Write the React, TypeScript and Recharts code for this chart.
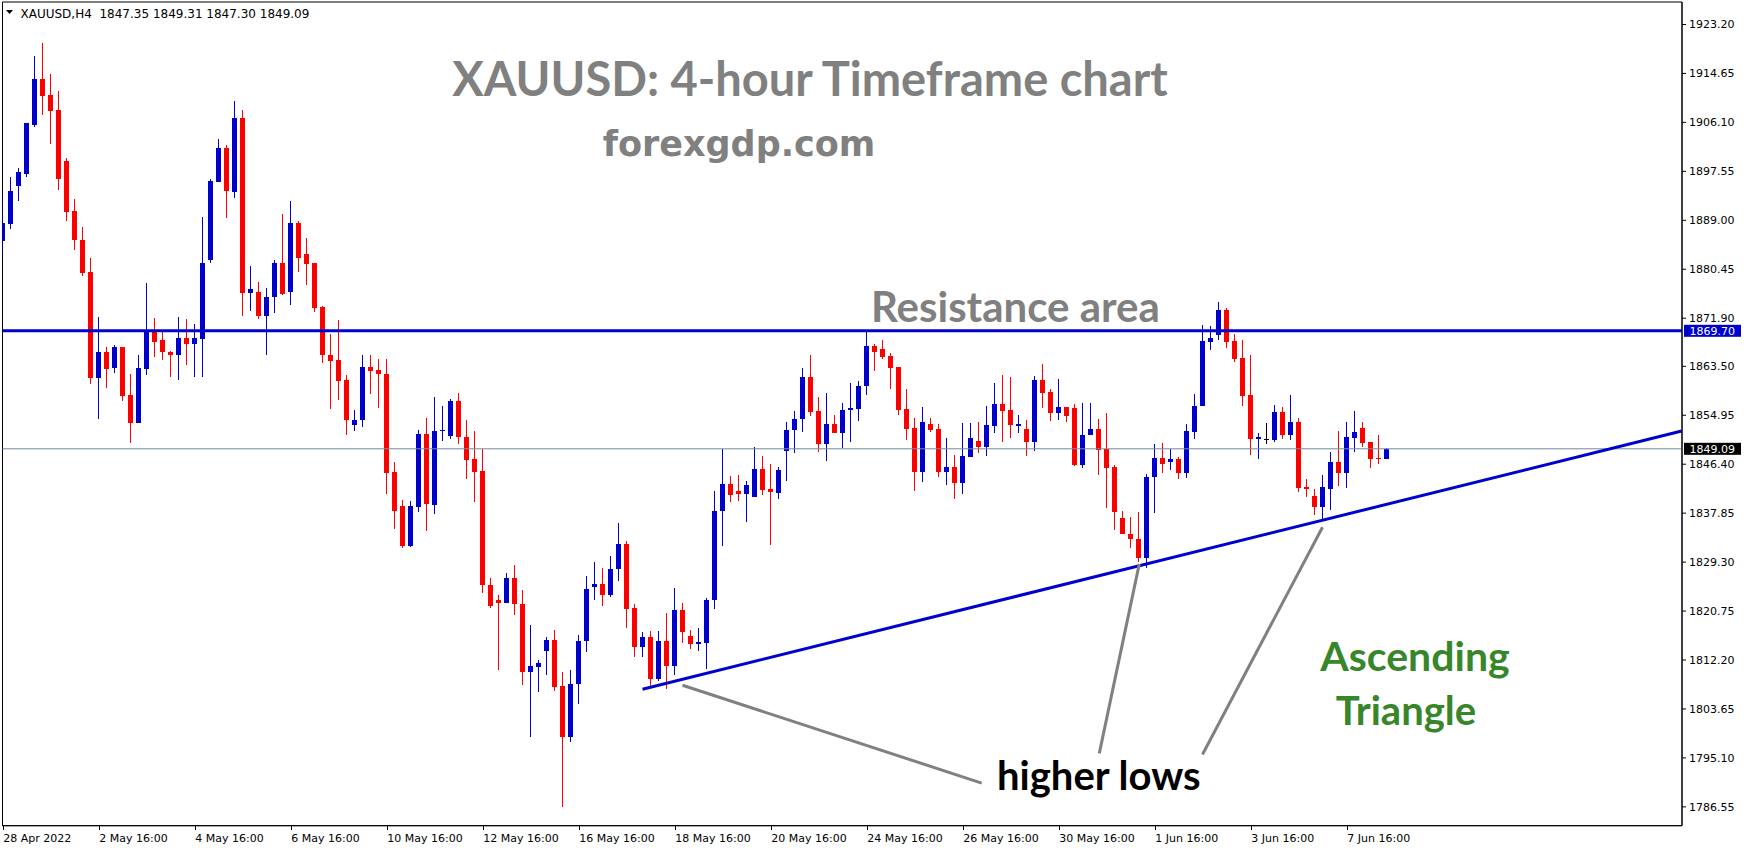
import { ComposedChart, Bar, XAxis, YAxis, ReferenceLine, ReferenceArea } from "recharts";

// XAUUSD H4 candles, oldest first
const OPEN = [
  1885.39, 1888.42, 1895.04, 1897.12, 1905.72, 1913.76, 1910.82, 1908.18, 1899.29, 1890.59,
  1885.49, 1879.91, 1861.47, 1866.01, 1863.27, 1866.86, 1858.45, 1853.53, 1863.08, 1869.61,
  1868.09, 1865.92, 1865.54, 1868.38, 1867.43, 1868.28, 1881.99, 1895.7, 1901.56, 1893.9,
  1906.95, 1876.32, 1876.51, 1872.35, 1875.66, 1881.61, 1876.41, 1888.61, 1883.05, 1881.49,
  1873.84, 1865.56, 1864.55, 1861.03, 1853.23, 1854.09, 1863.3, 1862.83, 1862.21, 1845.03,
  1839.02, 1832.15, 1838.86, 1851.74, 1839.25, 1852.21, 1851.28, 1857.36, 1851.2, 1847.29,
  1845.19, 1825.36, 1822.7, 1822.08, 1826.6, 1822.0, 1810.05, 1810.91, 1813.72, 1815.75,
  1807.71, 1798.73, 1808.02, 1815.52, 1825.01, 1825.41, 1823.54, 1828.01, 1832.41, 1821.21,
  1814.41, 1816.21, 1808.94, 1815.47, 1811.2, 1820.87, 1816.34, 1814.94, 1815.21, 1822.61,
  1838.22, 1843.02, 1841.75, 1841.22, 1840.75, 1845.55, 1842.09, 1841.35, 1848.69, 1852.36,
  1854.29, 1861.63, 1855.63, 1849.89, 1853.43, 1851.82, 1855.89, 1855.96, 1860.03, 1867.1,
  1866.44, 1865.22, 1863.3, 1855.96, 1852.64, 1845.01, 1853.34, 1852.47, 1845.01, 1845.83,
  1843.09, 1847.63, 1850.37, 1849.38, 1853.05, 1856.83, 1855.79, 1853.05, 1852.47, 1850.25,
  1861.03, 1858.93, 1855.32, 1856.31, 1856.13, 1846.3, 1851.54, 1852.58, 1848.97, 1845.83,
  1837.04, 1834.24, 1833.37, 1830.0, 1844.2, 1847.52, 1846.82, 1847.23, 1844.84, 1852.0,
  1856.54, 1867.72, 1868.88, 1873.25, 1867.84, 1864.93, 1858.41, 1850.72, 1850.72, 1850.55,
  1855.44, 1851.42, 1853.69, 1842.34, 1840.76, 1838.9, 1842.05, 1846.7, 1844.84, 1850.95,
  1852.64, 1850.2, 1847.4, 1847.35,
];
const HIGH = [
  1892.96, 1896.64, 1898.06, 1905.91, 1917.73, 1919.9, 1914.61, 1911.58, 1899.86, 1892.67,
  1887.76, 1882.37, 1872.06, 1866.86, 1867.15, 1866.86, 1862.14, 1865.45, 1878.02, 1871.87,
  1869.42, 1866.11, 1872.06, 1871.69, 1870.83, 1889.55, 1896.17, 1903.26, 1902.13, 1909.78,
  1908.27, 1880.95, 1878.21, 1877.26, 1881.99, 1890.03, 1892.39, 1888.91, 1885.86, 1881.49,
  1873.99, 1869.08, 1871.65, 1862.05, 1855.8, 1865.41, 1865.41, 1864.7, 1864.7, 1846.83,
  1840.19, 1840.03, 1852.45, 1854.4, 1858.22, 1856.51, 1857.83, 1858.77, 1854.16, 1852.21,
  1849.09, 1826.6, 1823.56, 1827.46, 1828.87, 1824.42, 1818.33, 1812.24, 1816.3, 1817.47,
  1810.05, 1810.37, 1816.53, 1826.92, 1829.28, 1828.21, 1830.28, 1836.08, 1832.95, 1821.94,
  1817.14, 1817.21, 1817.21, 1820.34, 1824.74, 1822.08, 1817.47, 1817.74, 1823.08, 1841.75,
  1849.09, 1844.29, 1844.55, 1843.55, 1849.42, 1847.75, 1846.49, 1845.95, 1853.69, 1855.76,
  1863.23, 1865.56, 1858.16, 1858.83, 1855.03, 1857.09, 1860.63, 1860.96, 1869.43, 1867.37,
  1868.01, 1865.74, 1863.41, 1859.45, 1854.39, 1856.37, 1854.39, 1853.34, 1850.95, 1847.93,
  1853.57, 1853.51, 1853.69, 1856.48, 1860.5, 1861.9, 1861.61, 1854.91, 1854.16, 1861.84,
  1863.94, 1859.45, 1861.2, 1856.37, 1856.83, 1857.12, 1857.12, 1854.21, 1855.38, 1846.18,
  1838.26, 1837.16, 1837.97, 1844.61, 1849.85, 1850.08, 1848.97, 1847.63, 1853.34, 1858.7,
  1870.63, 1870.46, 1874.71, 1873.72, 1869.18, 1868.01, 1865.39, 1851.77, 1853.51, 1856.66,
  1856.31, 1858.41, 1854.39, 1843.73, 1841.99, 1844.43, 1848.45, 1852.12, 1853.69, 1855.61,
  1853.69, 1850.2, 1851.42, 1849.31,
];
const LOW = [
  1883.12, 1887.47, 1892.3, 1896.64, 1905.25, 1907.33, 1902.32, 1894.28, 1888.89, 1883.88,
  1879.34, 1860.34, 1854.38, 1859.77, 1862.33, 1857.41, 1850.13, 1853.53, 1861.95, 1865.16,
  1864.59, 1861.57, 1861.19, 1863.65, 1861.57, 1861.66, 1881.52, 1895.7, 1889.46, 1892.96,
  1872.35, 1873.1, 1871.69, 1865.54, 1872.82, 1875.94, 1874.24, 1880.01, 1877.74, 1872.9,
  1864.08, 1856.04, 1857.6, 1851.51, 1852.21, 1852.92, 1858.61, 1856.19, 1841.13, 1835.12,
  1831.68, 1831.99, 1837.99, 1834.72, 1837.69, 1850.42, 1850.81, 1849.87, 1843.78, 1839.8,
  1823.87, 1821.22, 1810.37, 1822.08, 1820.05, 1807.87, 1798.73, 1806.54, 1809.51, 1806.85,
  1786.48, 1797.8, 1804.59, 1813.57, 1822.74, 1821.68, 1823.28, 1826.08, 1817.81, 1812.74,
  1812.74, 1807.6, 1808.6, 1807.2, 1809.6, 1815.21, 1814.14, 1813.81, 1810.67, 1821.14,
  1832.08, 1839.82, 1839.95, 1836.28, 1840.75, 1841.09, 1832.28, 1840.28, 1843.42, 1848.29,
  1851.96, 1854.89, 1848.49, 1846.96, 1851.82, 1849.16, 1850.29, 1853.89, 1858.56, 1862.63,
  1864.75, 1859.51, 1855.03, 1850.55, 1841.7, 1843.27, 1851.94, 1844.08, 1842.69, 1840.3,
  1841.17, 1847.63, 1848.33, 1847.81, 1851.83, 1850.25, 1851.01, 1851.83, 1847.81, 1848.68,
  1856.19, 1853.92, 1854.1, 1853.75, 1846.0, 1845.77, 1851.54, 1844.55, 1838.73, 1834.94,
  1834.13, 1831.74, 1829.24, 1828.31, 1837.85, 1844.84, 1845.31, 1843.79, 1843.97, 1850.72,
  1856.54, 1866.26, 1868.01, 1866.61, 1864.23, 1856.54, 1847.93, 1847.23, 1849.85, 1850.25,
  1850.72, 1850.55, 1841.46, 1840.65, 1837.5, 1836.69, 1838.38, 1842.63, 1842.22, 1848.51,
  1849.38, 1845.66, 1846.41, 1847.3,
];
const CLOSE = [
  1888.61, 1894.19, 1897.4, 1905.91, 1913.76, 1910.73, 1908.08, 1896.27, 1890.5, 1885.58,
  1879.82, 1861.47, 1866.01, 1863.08, 1866.86, 1858.36, 1853.53, 1863.18, 1869.61, 1867.81,
  1865.92, 1865.54, 1868.38, 1867.43, 1868.38, 1881.61, 1895.79, 1901.56, 1894.19, 1906.95,
  1876.32, 1877.07, 1872.35, 1875.66, 1881.61, 1876.13, 1888.61, 1882.43, 1881.41, 1873.68,
  1865.48, 1864.39, 1860.96, 1854.09, 1854.16, 1863.3, 1862.67, 1862.21, 1844.8, 1838.16,
  1832.15, 1839.02, 1851.74, 1839.41, 1852.13, 1852.37, 1857.36, 1851.12, 1847.22, 1845.03,
  1825.36, 1821.61, 1822.08, 1826.6, 1822.0, 1810.05, 1811.15, 1811.62, 1815.75, 1807.56,
  1798.73, 1808.02, 1815.52, 1824.65, 1825.41, 1823.54, 1828.01, 1832.41, 1821.14, 1814.41,
  1816.21, 1808.94, 1815.47, 1811.2, 1820.87, 1817.14, 1815.01, 1815.41, 1822.61, 1838.28,
  1843.02, 1841.09, 1841.22, 1842.69, 1845.55, 1841.98, 1841.62, 1845.42, 1852.36, 1854.29,
  1861.63, 1855.56, 1849.89, 1853.43, 1851.82, 1855.83, 1856.16, 1860.1, 1867.1, 1865.96,
  1865.1, 1863.24, 1855.84, 1852.53, 1845.01, 1853.69, 1852.29, 1845.01, 1845.83, 1843.09,
  1847.75, 1850.9, 1849.38, 1853.17, 1856.83, 1855.67, 1853.22, 1853.4, 1850.25, 1861.03,
  1858.81, 1855.32, 1856.31, 1854.8, 1846.3, 1851.54, 1852.58, 1848.8, 1845.71, 1838.03,
  1834.13, 1833.31, 1830.0, 1844.2, 1847.52, 1846.41, 1847.23, 1844.84, 1852.12, 1856.48,
  1867.84, 1868.36, 1873.25, 1867.72, 1864.75, 1858.29, 1850.72, 1851.07, 1850.72, 1855.44,
  1851.42, 1853.69, 1842.22, 1842.05, 1838.9, 1842.34, 1846.7, 1844.84, 1851.07, 1851.94,
  1850.08, 1847.29, 1847.29, 1849.09,
];

// bar indexes of the time labels and their text
const DATE_TICKS = [0, 12, 24, 36, 48, 60, 72, 84, 96, 108, 120, 132, 144, 156, 168];
const DATE_LABELS = [
  "28 Apr 2022", "2 May 16:00", "4 May 16:00", "6 May 16:00", "10 May 16:00",
  "12 May 16:00", "16 May 16:00", "18 May 16:00", "20 May 16:00", "24 May 16:00",
  "26 May 16:00", "30 May 16:00", "1 Jun 16:00", "3 Jun 16:00", "7 Jun 16:00",
];
const PRICE_TICKS = [
  1923.2, 1914.65, 1906.1, 1897.55, 1889.0, 1880.45, 1871.9, 1863.5, 1854.95,
  1846.4, 1837.85, 1829.3, 1820.75, 1812.2, 1803.65, 1795.1, 1786.55,
];

const RESISTANCE = 1869.7;
// rising support line through the higher lows
const TREND_LINE = [
  { x: 79.9, y: 1807.1 },
  { x: 209.8, y: 1852.2 },
];
// pointers from the "higher lows" caption to each low
const POINTERS = [
  [{ x: 84.9, y: 1807.8 }, { x: 122.3, y: 1790.7 }],
  [{ x: 137.0, y: 1795.9 }, { x: 142.0, y: 1829.0 }],
  [{ x: 149.9, y: 1795.7 }, { x: 164.9, y: 1835.4 }],
];

const X_DOMAIN: [number, number] = [-0.1, 209.84];
const Y_DOMAIN: [number, number] = [1783.26, 1927.13];

const W = 1746;
const H = 850;
const BULL = "#0000CD";
const BEAR = "#FF0000";
const AXIS_FONT = "'DejaVu Sans', Tahoma, sans-serif";
const TITLE_FONT = "Lato, 'Open Sans', sans-serif";

const candles = OPEN.map((open, i) => ({
  i,
  open,
  high: HIGH[i],
  low: LOW[i],
  close: CLOSE[i],
}));
const last = candles[candles.length - 1];

function Candle(props: any) {
  const { x, y, width, height, payload } = props;
  if (x == null || y == null) return null;
  const { open, close, high, low } = payload;
  const top = Math.min(y, y + height);
  const h = Math.abs(height);
  const k = h / (high - low);
  const cx = x + width / 2;
  const bodyTop = top + (high - Math.max(open, close)) * k;
  const bodyBot = top + (high - Math.min(open, close)) * k;
  const color = close > open ? BULL : close < open ? BEAR : "#000";
  return (
    <g shapeRendering="crispEdges">
      <rect x={cx - 0.5} y={top} width={1} height={h} fill={color} />
      <rect x={cx - 2.5} y={bodyTop} width={5} height={Math.max(1, bodyBot - bodyTop)} fill={color} />
    </g>
  );
}

function DateTick(props: any) {
  const { x, y, payload } = props;
  const label = DATE_LABELS[DATE_TICKS.indexOf(payload.value)];
  return (
    <g>
      <line x1={x} x2={x} y1={y} y2={y + 4} stroke="#000" shapeRendering="crispEdges" />
      <text x={x} y={y + 16} fontSize={11} fontFamily={AXIS_FONT} fill="#000" textAnchor="start">
        {label}
      </text>
    </g>
  );
}

function PriceTag(props: any) {
  const { viewBox, bg, text } = props;
  if (!viewBox) return null;
  const left = viewBox.x + viewBox.width + 2;
  const cy = viewBox.y;
  return (
    <g>
      <rect x={left} y={cy - 6} width={57} height={12} fill={bg} />
      <text x={left + 5.5} y={cy} dy="0.36em" fontSize={11} fontFamily={AXIS_FONT} fill="#fff">
        {text}
      </text>
    </g>
  );
}

export default function App() {
  const header = `XAUUSD,H4  ${last.open.toFixed(2)} ${last.high.toFixed(2)} ${last.low.toFixed(2)} ${last.close.toFixed(2)}`;
  return (
    <div style={{ position: "absolute", left: 0, top: 0, width: W, height: H, background: "#fff" }}>
      <ComposedChart
        width={W}
        height={H}
        data={candles}
        margin={{ top: 2, right: 0, bottom: 0, left: 2.5 }}
      >
        <ReferenceArea
          x1={X_DOMAIN[0]}
          x2={X_DOMAIN[1]}
          y1={Y_DOMAIN[0]}
          y2={Y_DOMAIN[1]}
          fill="none"
          stroke="#000"
          strokeWidth={1}
          ifOverflow="visible"
        />
        <XAxis
          dataKey="i"
          type="number"
          domain={X_DOMAIN}
          allowDataOverflow
          ticks={DATE_TICKS}
          interval={0}
          height={24.3}
          tickSize={0}
          tickMargin={0}
          tickLine={false}
          axisLine={{ stroke: "#000" }}
          tick={<DateTick />}
        />
        <YAxis
          orientation="right"
          type="number"
          domain={Y_DOMAIN}
          allowDataOverflow
          ticks={PRICE_TICKS}
          interval={0}
          width={64}
          tickSize={4}
          tickMargin={3}
          axisLine={{ stroke: "#000" }}
          tickLine={{ stroke: "#000" }}
          tick={{ fontSize: 11, fill: "#000", fontFamily: AXIS_FONT }}
          tickFormatter={(v: number) => v.toFixed(2)}
        />
        <ReferenceLine y={last.close} stroke="#778899" strokeWidth={1} label={<PriceTag bg="#000" text={last.close.toFixed(2)} />} />
        <Bar
          dataKey={(d: any) => [d.low, d.high]}
          barSize={5}
          shape={<Candle />}
          isAnimationActive={false}
        />
        <ReferenceLine y={RESISTANCE} stroke={BULL} strokeWidth={3} label={<PriceTag bg={BULL} text={RESISTANCE.toFixed(2)} />} />
        <ReferenceLine segment={TREND_LINE} stroke={BULL} strokeWidth={3} ifOverflow="visible" />
        {POINTERS.map((seg, n) => (
          <ReferenceLine key={n} segment={seg} stroke="#808080" strokeWidth={3} ifOverflow="visible" />
        ))}
      </ComposedChart>

      {/* captions and symbol header drawn over the chart */}
      <svg
        width={W}
        height={H}
        style={{ position: "absolute", left: 0, top: 0, pointerEvents: "none" }}
      >
        <polygon points="6,10 13,10 9.5,14" fill="#000" />
        <text x={20.5} y={17.5} fontSize={12} fontFamily={AXIS_FONT} fill="#000" xmlSpace="preserve">
          {header}
        </text>
        <g fontFamily={TITLE_FONT} fontWeight={700}>
          <text x={810} y={96} fontSize={47} fill="#808080" textAnchor="middle">
            XAUUSD: 4-hour Timeframe chart
          </text>
          <text x={1415} y={671} fontSize={41} fill="#38862a" textAnchor="middle">
            Ascending
          </text>
          <text x={1406} y={725} fontSize={40} fill="#38862a" textAnchor="middle">
            Triangle
          </text>
          <text x={871} y={322} fontSize={42} fill="#808080">
            Resistance area
          </text>
          <text x={997} y={790} fontSize={40} fill="#000">
            higher lows
          </text>
        </g>
        <text x={739} y={156} fontSize={35} fontWeight={700} fontFamily={AXIS_FONT} fill="#808080" textAnchor="middle">
          forexgdp.com
        </text>
      </svg>
    </div>
  );
}
